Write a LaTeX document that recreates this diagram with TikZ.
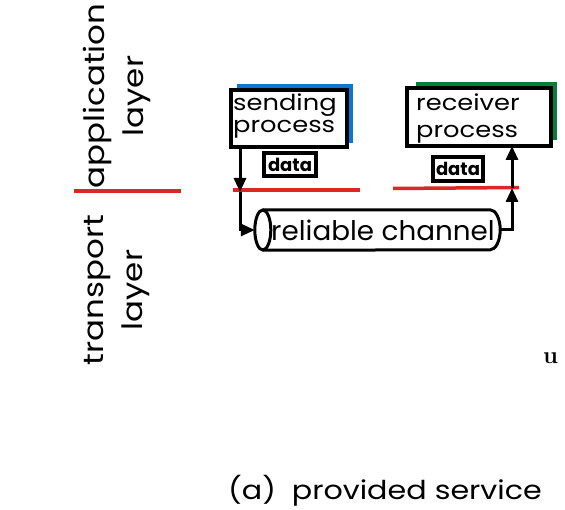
\documentclass[tikz,border=0pt]{standalone}
\usepackage{fontspec}
\setmainfont{Poppins}
\newfontfamily\fA{Poppins}[FakeStretch=1.16]
\newfontfamily\fB{Poppins}[FakeStretch=1.17]
\newfontfamily\fC{Poppins}[FakeStretch=1.03]
\newfontfamily\fD{Poppins}[FakeStretch=1.16]
\usetikzlibrary{arrows.meta}
\definecolor{redline}{RGB}{220,40,30}
\definecolor{shblue}{RGB}{10,120,210}
\definecolor{shgreen}{RGB}{0,130,60}
\tikzset{
  procbox/.style={draw=black,line width=4pt,fill=white,inner sep=0pt},
  databox/.style={draw=black,line width=3.2pt,fill=white,inner sep=0pt,font=\fontsize{18}{19}\selectfont\bfseries},
  layerline/.style={draw=redline,line width=3.5pt},
  arr/.style={line width=3pt,-{Triangle[length=14pt,width=12pt]}},
  layerlabel/.style={rotate=90,align=center,inner sep=0pt,font=\fontsize{28}{39}\fA},
  boxtext/.style={anchor=north west,inner sep=0pt,align=left},
}
\begin{document}
\begin{tikzpicture}[x=1pt,y=-1pt]
\useasboundingbox (0,0) rectangle (565,510);
% layer labels
\node[layerlabel] (app) at (117,96) {application\\layer};
\node[layerlabel] (trans) at (117,290) {transport\\layer};
\coordinate (l1a) at (74,191); \coordinate (l1b) at (181,191);
\draw[layerline] (l1a) -- (l1b);
% shadows
\fill[shblue] (237,84) rectangle (353,143);
\fill[shgreen] (416,82) rectangle (557,140);
% process boxes
\node[procbox,minimum width=116pt,minimum height=57pt] (snd) at (289,118.5) {};
\node[boxtext,font=\fontsize{22}{22}\fB] (sndt) at (233,94) {sending\\process};
\node[procbox,minimum width=144pt,minimum height=58pt] (rcv) at (479,117) {};
\node[boxtext,font=\fontsize{22}{27}\fB] (rcvt) at (416,94) {receiver\\process};
% data boxes
\node[databox,minimum width=52pt,minimum height=23pt] (d1) at (290,164.5) {data};
\node[databox,minimum width=50pt,minimum height=24pt] (d2) at (458,169) {data};
% red lines
\coordinate (l2a) at (233,190); \coordinate (l2b) at (360,190);
\coordinate (l3a) at (393,188.5); \coordinate (l3b) at (519,187.5);
\draw[layerline] (l2a) -- (l2b);
\draw[layerline] (l3a) -- (l3b);
% channel
\node[minimum width=245pt,minimum height=40pt,inner sep=0pt] (chan) at (377.5,230) {};
\draw[line width=3pt] ([xshift=8pt]chan.north west) -- ([xshift=-10pt]chan.north east)
  arc[start angle=90,end angle=-90,x radius=10pt,y radius=20pt]
  -- ([xshift=8pt]chan.south west);
\draw[line width=3pt,fill=white] ([xshift=8pt]chan.west) ellipse[x radius=8pt,y radius=20pt];
\node[inner sep=0pt,font=\fontsize{27}{28}\fC] (chant) at (383,230) {reliable channel};
% sending path
\coordinate (s0) at (240,147);
\coordinate (s1) at (240,192);
\coordinate (s2) at (240,230);
\draw[arr] (s0) -- (s1);
\draw[arr] (s1) -- (s2) -- (chan.west);
% receiving path
\coordinate (r1) at (512,230);
\coordinate (r2) at (512,188);
\coordinate (r3) at (512,146);
\draw[arr] (chan.east) -- (r1) -- (r2);
\draw[arr] (r2) -- (r3);
% caption
\node[inner sep=0pt,font=\fontsize{26}{30}\fD] (cap) at (385,491) {(a)\hspace{16pt}provided service};
\node[inner sep=0pt,anchor=west,font=\fontsize{24}{26}\fontspec{Latin Modern Roman}\bfseries] (u) at (543,358) {u};
\end{tikzpicture}
\end{document}
